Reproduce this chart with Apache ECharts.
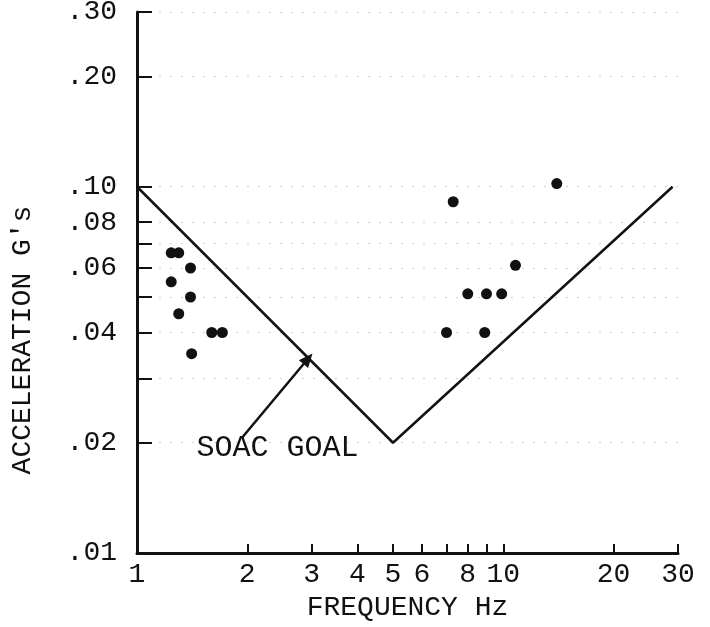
<!DOCTYPE html>
<html>
<head>
<meta charset="utf-8">
<script src="https://cdn.jsdelivr.net/npm/echarts@6/dist/echarts.min.js"></script>
<style>
  html, body { margin: 0; padding: 0; background: #fff; }
  #main { width: 710px; height: 627px; }
</style>
</head>
<body>
<div id="main"></div>
<script>
// test data (log-log)
var leftPoints = [
    [1.24, 0.066], [1.30, 0.066], [1.40, 0.060], [1.24, 0.055], [1.40, 0.050],
    [1.30, 0.045], [1.60, 0.040], [1.71, 0.040], [1.41, 0.035]
];
var rightPoints = [
    [14.0, 0.102], [7.3, 0.091], [10.8, 0.061], [8.0, 0.051], [9.0, 0.051],
    [9.9, 0.051], [7.0, 0.040], [8.9, 0.040]
];
var goalLine = [[1, 0.1], [5, 0.02], [29, 0.1]];
var arrowFrom = [1.94, 0.0207];
var arrowTo = [2.93, 0.0339];
var goalLabelAt = [2.42, 0.0194];

var xLabels = [1, 2, 3, 4, 5, 6, 8, 10, 20, 30];
var xTicks = [2, 3, 4, 5, 6, 7, 8, 9, 10, 20, 30];
var yLabels = [0.01, 0.02, 0.04, 0.06, 0.08, 0.1, 0.2, 0.3];
var yTicks = [0.02, 0.03, 0.04, 0.05, 0.06, 0.07, 0.08, 0.1, 0.2, 0.3];

var FONT = '"Liberation Mono", "DejaVu Sans Mono", monospace';
var INK = '#111';

var chart = echarts.init(document.getElementById('main'));

var option = {
    backgroundColor: '#fff',
    animation: false,
    grid: { left: 137, right: 32, top: 12, bottom: 74, outerBoundsMode: 'none', containLabel: false },
    xAxis: {
        type: 'log',
        logBase: 10,
        min: 1,
        max: 30,
        name: 'FREQUENCY Hz',
        nameLocation: 'middle',
        nameGap: 40,
        nameTextStyle: { fontFamily: FONT, fontSize: 28, color: INK },
        axisLine: { lineStyle: { color: INK, width: 3 } },
        axisTick: {
            show: true,
            inside: true,
            length: 9,
            customValues: xTicks,
            lineStyle: { color: INK, width: 2 }
        },
        axisLabel: {
            customValues: xLabels,
            margin: 8,
            fontFamily: FONT,
            fontSize: 28,
            color: INK,
            formatter: function (v) { return String(Math.round(v)); }
        },
        splitLine: { show: false }
    },
    yAxis: {
        type: 'log',
        logBase: 10,
        min: 0.01,
        max: 0.3,
        axisLine: { lineStyle: { color: INK, width: 3 } },
        axisTick: {
            show: true,
            inside: true,
            length: 15,
            customValues: yTicks,
            lineStyle: { color: INK, width: 2 }
        },
        axisLabel: {
            customValues: yLabels,
            margin: 20,
            fontFamily: FONT,
            fontSize: 28,
            color: INK,
            formatter: function (v) {
                var n = Math.round(v * 100);
                return '.' + (n < 10 ? '0' + n : n);
            }
        },
        splitLine: {
            show: true,
            lineStyle: { color: '#cfcfcf', width: 1, type: [2, 9] }
        }
    },
    graphic: [{
        type: 'text',
        x: 23,
        y: 340,
        rotation: Math.PI / 2,
        style: {
            text: "ACCELERATION G's",
            font: '28px ' + FONT,
            fill: INK,
            align: 'center',
            verticalAlign: 'middle'
        }
    }],
    series: [
        {
            type: 'line',
            data: goalLine,
            symbol: 'none',
            lineStyle: { color: INK, width: 2.5 },
            markLine: {
                silent: true,
                symbol: ['none', 'triangle'],
                symbolSize: [12, 14],
                lineStyle: { color: INK, width: 2.5, type: 'solid' },
                label: { show: false },
                data: [[{ coord: arrowFrom }, { coord: arrowTo }]]
            },
            markPoint: {
                silent: true,
                symbol: 'circle',
                symbolSize: 0,
                label: {
                    show: true,
                    position: 'inside',
                    formatter: 'SOAC GOAL',
                    fontFamily: FONT,
                    fontSize: 30,
                    color: INK
                },
                data: [{ coord: goalLabelAt }]
            }
        },
        {
            type: 'scatter',
            data: leftPoints,
            symbol: 'circle',
            symbolSize: 11,
            itemStyle: { color: INK, opacity: 1 }
        },
        {
            type: 'scatter',
            data: rightPoints,
            symbol: 'circle',
            symbolSize: 11,
            itemStyle: { color: INK, opacity: 1 }
        }
    ]
};

chart.setOption(option);
</script>
</body>
</html>
